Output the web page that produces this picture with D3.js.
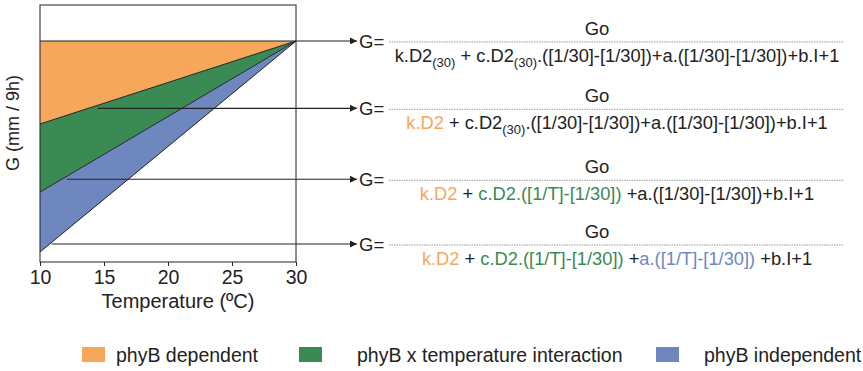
<!DOCTYPE html>
<html>
<head>
<meta charset="utf-8">
<script src="https://cdn.jsdelivr.net/npm/d3@7"></script>
<style>
  body { margin: 0; background: #fff; }
  svg { display: block; font-family: 'Liberation Sans', Arial, sans-serif; }
</style>
</head>
<body>
<div id="chart"></div>
<script>
// ── Data ─────────────────────────────────────────────
var temps      = [10, 30];
var xTicks     = [10, 15, 20, 25, 30];
// G values (arbitrary units, no y ticks) at 10 ºC and 30 ºC
var lineTop    = [8.6, 8.6];   // top of phyB dependent
var lineMid1   = [5.37, 8.6];  // orange / green boundary
var lineMid2   = [2.72, 8.6];  // green / blue boundary
var lineBottom = [0.39, 8.6];  // bottom of phyB independent

var arrowG      = [8.6, 5.98, 3.22, 0.7];
var arrowStartT = [10, 14.5, 12.1, 10.9];

var legendLabels = ['phyB dependent', 'phyB x temperature interaction', 'phyB independent'];

var ORANGE = '#f7a75b';
var GREEN  = '#3a8a54';
var BLUE   = '#6e88bf';
var BLACK  = '#222';

// formula denominators as coloured segments; sub = subscript
var formulas = [
  [ {t: 'k.D2'}, {t: '(30)', sub: true}, {t: ' + c.D2'}, {t: '(30)', sub: true},
    {t: '.([1/30]-[1/30])+a.([1/30]-[1/30])+b.I+1'} ],
  [ {t: 'k.D2', c: ORANGE}, {t: ' + c.D2'}, {t: '(30)', sub: true},
    {t: '.([1/30]-[1/30])+a.([1/30]-[1/30])+b.I+1'} ],
  [ {t: 'k.D2', c: ORANGE}, {t: ' + '}, {t: 'c.D2.([1/T]-[1/30])', c: GREEN},
    {t: ' +a.([1/30]-[1/30])+b.I+1'} ],
  [ {t: 'k.D2', c: ORANGE}, {t: ' + '}, {t: 'c.D2.([1/T]-[1/30])', c: GREEN},
    {t: ' +'}, {t: 'a.([1/T]-[1/30])', c: BLUE}, {t: ' +b.I+1'} ]
];

// ── Setup ────────────────────────────────────────────
var W = 863, H = 371;
var svg = d3.select('#chart').append('svg')
  .attr('width', W).attr('height', H);

var x = d3.scaleLinear().domain([10, 30]).range([40, 296]);
var y = d3.scaleLinear().domain([0, 10]).range([262, 5]);

function pts(vals) {
  return temps.map(function(t, i) { return [x(t), y(vals[i])]; });
}
function band(upper, lower) {
  var u = pts(upper), l = pts(lower).reverse();
  return 'M' + u.concat(l).map(function(p) { return p.join(','); }).join('L') + 'Z';
}

// ── Bands ────────────────────────────────────────────
svg.append('path').attr('d', band(lineTop, lineMid1)).attr('fill', ORANGE);
svg.append('path').attr('d', band(lineMid1, lineMid2)).attr('fill', GREEN);
svg.append('path').attr('d', band(lineMid2, lineBottom)).attr('fill', BLUE);

var line = d3.line();
[lineMid1, lineMid2, lineBottom].forEach(function(v) {
  svg.append('path').attr('d', line(pts(v)))
    .attr('fill', 'none').attr('stroke', BLACK).attr('stroke-width', 1);
});

// frame
svg.append('rect')
  .attr('x', x(10)).attr('y', y(10))
  .attr('width', x(30) - x(10)).attr('height', y(0) - y(10))
  .attr('fill', 'none').attr('stroke', BLACK).attr('stroke-width', 1);

// ── Axis ─────────────────────────────────────────────
var xAxis = d3.axisBottom(x).tickValues(xTicks).tickSize(4).tickPadding(4)
  .tickFormat(d3.format('d'));
var gx = svg.append('g').attr('transform', 'translate(0,' + y(0) + ')').call(xAxis);
gx.select('.domain').remove();
gx.selectAll('line').attr('stroke', BLACK);
gx.selectAll('text').attr('font-size', '19.5px').attr('fill', BLACK)
  .attr('font-family', 'Liberation Sans, Arial, sans-serif');

svg.append('text')
  .attr('x', 178).attr('y', 308)
  .attr('text-anchor', 'middle').attr('font-size', '20px').attr('fill', BLACK)
  .text('Temperature (ºC)');

svg.append('text')
  .attr('transform', 'translate(19,123) rotate(-90)')
  .attr('text-anchor', 'middle').attr('font-size', '18px').attr('fill', BLACK)
  .text('G (mm / 9h)');

// ── Arrows + formulas ────────────────────────────────
var defs = svg.append('defs');
defs.append('marker')
  .attr('id', 'arrow')
  .attr('viewBox', '0 0 10 10')
  .attr('refX', 10).attr('refY', 5)
  .attr('markerWidth', 9).attr('markerHeight', 7)
  .attr('markerUnits', 'userSpaceOnUse')
  .attr('orient', 'auto')
  .append('path').attr('d', 'M 0 0 L 10 5 L 0 10 z').attr('fill', BLACK);

var arrowTip = 357;
arrowG.forEach(function(g, i) {
  var yy = y(g);
  svg.append('line')
    .attr('x1', x(arrowStartT[i])).attr('y1', yy)
    .attr('x2', arrowTip).attr('y2', yy)
    .attr('stroke', BLACK).attr('stroke-width', 1.2)
    .attr('marker-end', 'url(#arrow)');

  svg.append('text')
    .attr('x', 359).attr('y', yy + 7)
    .attr('font-size', '18.5px').attr('fill', BLACK)
    .text('G=');

  svg.append('line')
    .attr('x1', 389).attr('x2', 843)
    .attr('y1', yy + 1).attr('y2', yy + 1)
    .attr('stroke', '#999').attr('stroke-width', 1)
    .attr('stroke-dasharray', '1.5,1');

  svg.append('text')
    .attr('x', 597).attr('y', yy - 6)
    .attr('text-anchor', 'middle')
    .attr('font-size', '18.5px').attr('fill', BLACK)
    .text('Go');

  var den = svg.append('text')
    .attr('x', 617).attr('y', yy + 21)
    .attr('text-anchor', 'middle')
    .attr('font-size', '18.3px').attr('fill', BLACK);
  var shifted = false;
  formulas[i].forEach(function(seg) {
    var ts = den.append('tspan').text(seg.t).attr('fill', seg.c || BLACK);
    if (seg.sub) {
      ts.attr('font-size', '13px').attr('dy', shifted ? 0 : 5);
      shifted = true;
    } else if (shifted) {
      ts.attr('dy', -5);
      shifted = false;
    }
  });
});

// ── Legend ───────────────────────────────────────────
var legendX = [82, 299, 656];
var legendTextX = [116, 357, 704];
var legendColors = [ORANGE, GREEN, BLUE];
legendLabels.forEach(function(lbl, i) {
  svg.append('rect')
    .attr('x', legendX[i]).attr('y', 347)
    .attr('width', 23).attr('height', 15)
    .attr('fill', legendColors[i]);
  svg.append('text')
    .attr('x', legendTextX[i]).attr('y', 362)
    .attr('font-size', '19.5px').attr('fill', BLACK)
    .text(lbl);
});
</script>
</body>
</html>
